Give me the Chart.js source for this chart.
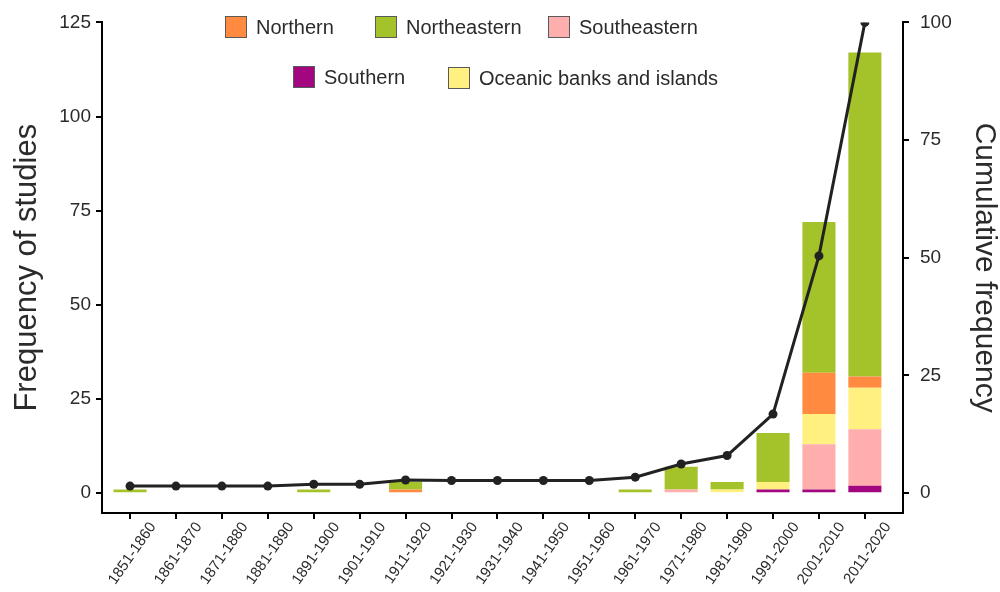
<!DOCTYPE html>
<html>
<head>
<meta charset="utf-8">
<script src="https://cdn.jsdelivr.net/npm/chart.js@4.4.1/dist/chart.umd.min.js"></script>
<style>
  html, body { margin: 0; padding: 0; background: #fff; }
</style>
</head>
<body>
<canvas id="chart" width="1000" height="592"></canvas>
<script>
  const decades = [
    "1851-1860", "1861-1870", "1871-1880", "1881-1890", "1891-1900", "1901-1910",
    "1911-1920", "1921-1930", "1931-1940", "1941-1950", "1951-1960", "1961-1970",
    "1971-1980", "1981-1990", "1991-2000", "2001-2010", "2011-2020"
  ];

  // studies per decade and region (left axis)
  const southern     = [0, 0, 0, 0, 0, 0, 0, 0, 0, 0, 0, 0, 0, 0, 1, 1, 2];
  const southeastern = [0, 0, 0, 0, 0, 0, 0, 0, 0, 0, 0, 0, 1, 0, 0, 12, 15];
  const oceanic      = [0, 0, 0, 0, 0, 0, 0, 0, 0, 0, 0, 0, 0, 1, 2, 8, 11];
  const northern     = [0, 0, 0, 0, 0, 0, 1, 0, 0, 0, 0, 0, 0, 0, 0, 11, 3];
  const northeastern = [1, 0, 0, 0, 1, 0, 2, 0, 0, 0, 0, 1, 6, 2, 13, 40, 86];

  // cumulative frequency line (right axis)
  const cumulative = [1.5, 1.5, 1.5, 1.5, 1.9, 1.9, 2.8, 2.7, 2.7, 2.7, 2.7, 3.4, 6.2, 8.0, 16.8, 50.4, 100];

  const leftTicks = [0, 25, 50, 75, 100, 125];
  const rightTicks = [0, 25, 50, 75, 100];

  const toPoints = arr => arr.map((v, i) => ({ x: i, y: v }));
  const FONT = "'Liberation Sans', Arial, sans-serif";
  const TEXT = "#2b2b2b";

  const legendSpots = [
    { label: "Northern", x: 225, y: 16 },
    { label: "Northeastern", x: 375, y: 16 },
    { label: "Southeastern", x: 548, y: 16 },
    { label: "Southern", x: 293, y: 66 },
    { label: "Oceanic banks and islands", x: 448, y: 67 }
  ];

  const regionLegend = {
    id: "regionLegend",
    afterDraw(chart) {
      const ctx = chart.ctx;
      ctx.save();
      ctx.font = "20px " + FONT;
      ctx.textBaseline = "middle";
      legendSpots.forEach(spot => {
        const ds = chart.data.datasets.find(d => d.label === spot.label);
        ctx.fillStyle = ds.backgroundColor;
        ctx.fillRect(spot.x, spot.y, 22, 22);
        ctx.strokeStyle = "#5a5a5a";
        ctx.lineWidth = 1;
        ctx.strokeRect(spot.x + 0.5, spot.y + 0.5, 21, 21);
        ctx.fillStyle = TEXT;
        ctx.fillText(spot.label, spot.x + 31, spot.y + 12);
      });
      ctx.restore();
    }
  };

  const barSet = (label, data, color) => ({
    type: "bar",
    label: label,
    data: toPoints(data),
    backgroundColor: color,
    borderWidth: 0,
    barPercentage: 0.72,
    categoryPercentage: 1,
    yAxisID: "y",
    stack: "regions",
    order: 1
  });

  new Chart(document.getElementById("chart"), {
    type: "bar",
    data: {
      datasets: [
        {
          type: "line",
          label: "Cumulative",
          data: toPoints(cumulative),
          borderColor: "#222",
          backgroundColor: "#222",
          borderWidth: 3,
          pointRadius: 4.5,
          pointBackgroundColor: "#222",
          pointBorderWidth: 0,
          tension: 0,
          yAxisID: "y2",
          order: 0
        },
        barSet("Southern", southern, "#a3077f"),
        barSet("Southeastern", southeastern, "#ffaeae"),
        barSet("Oceanic banks and islands", oceanic, "#fff07f"),
        barSet("Northern", northern, "#ff8a40"),
        barSet("Northeastern", northeastern, "#a4c229")
      ]
    },
    options: {
      responsive: false,
      animation: false,
      layout: { padding: { top: 18, left: 0, right: 0, bottom: 0 } },
      plugins: {
        legend: { display: false },
        tooltip: { enabled: false }
      },
      scales: {
        x: {
          type: "linear",
          offset: false,
          min: -0.61,
          max: 16.83,
          stacked: true,
          afterBuildTicks: s => { s.ticks = decades.map((d, i) => ({ value: i })); },
          afterFit: s => { s.height = 79; },
          grid: { offset: false, drawOnChartArea: false, drawTicks: true, tickLength: 6, lineWidth: 2, color: "#000" },
          border: { display: true, color: "#000", width: 2 },
          ticks: {
            autoSkip: false,
            minRotation: 55,
            maxRotation: 55,
            padding: 0,
            labelOffset: 23,
            color: TEXT,
            font: { family: FONT, size: 15 },
            callback: v => decades[v] ?? ""
          }
        },
        y: {
          position: "left",
          stacked: true,
          min: -5.26,
          max: 125,
          afterBuildTicks: s => { s.ticks = leftTicks.map(v => ({ value: v })); },
          afterFit: s => { s.width = 102; },
          grid: { drawOnChartArea: false, drawTicks: true, tickLength: 6, lineWidth: 2, color: "#000" },
          border: { display: true, color: "#000", width: 2 },
          ticks: { padding: 5, color: TEXT, font: { family: FONT, size: 19 } },
          title: {
            display: true,
            text: "Frequency of studies",
            color: TEXT,
            padding: { top: 12, bottom: 0 },
            font: { family: FONT, size: 31, lineHeight: 1 }
          }
        },
        y2: {
          position: "right",
          min: -4.21,
          max: 100,
          afterBuildTicks: s => { s.ticks = rightTicks.map(v => ({ value: v })); },
          afterFit: s => { s.width = 97; },
          grid: { drawOnChartArea: false, drawTicks: true, tickLength: 6, lineWidth: 2, color: "#000" },
          border: { display: true, color: "#000", width: 2 },
          ticks: { padding: 11, color: TEXT, font: { family: FONT, size: 19 } },
          title: {
            display: true,
            text: "Cumulative frequency",
            color: TEXT,
            padding: { top: 1, bottom: 0 },
            font: { family: FONT, size: 30, lineHeight: 1 }
          }
        }
      }
    },
    plugins: [regionLegend]
  });
</script>
</body>
</html>
